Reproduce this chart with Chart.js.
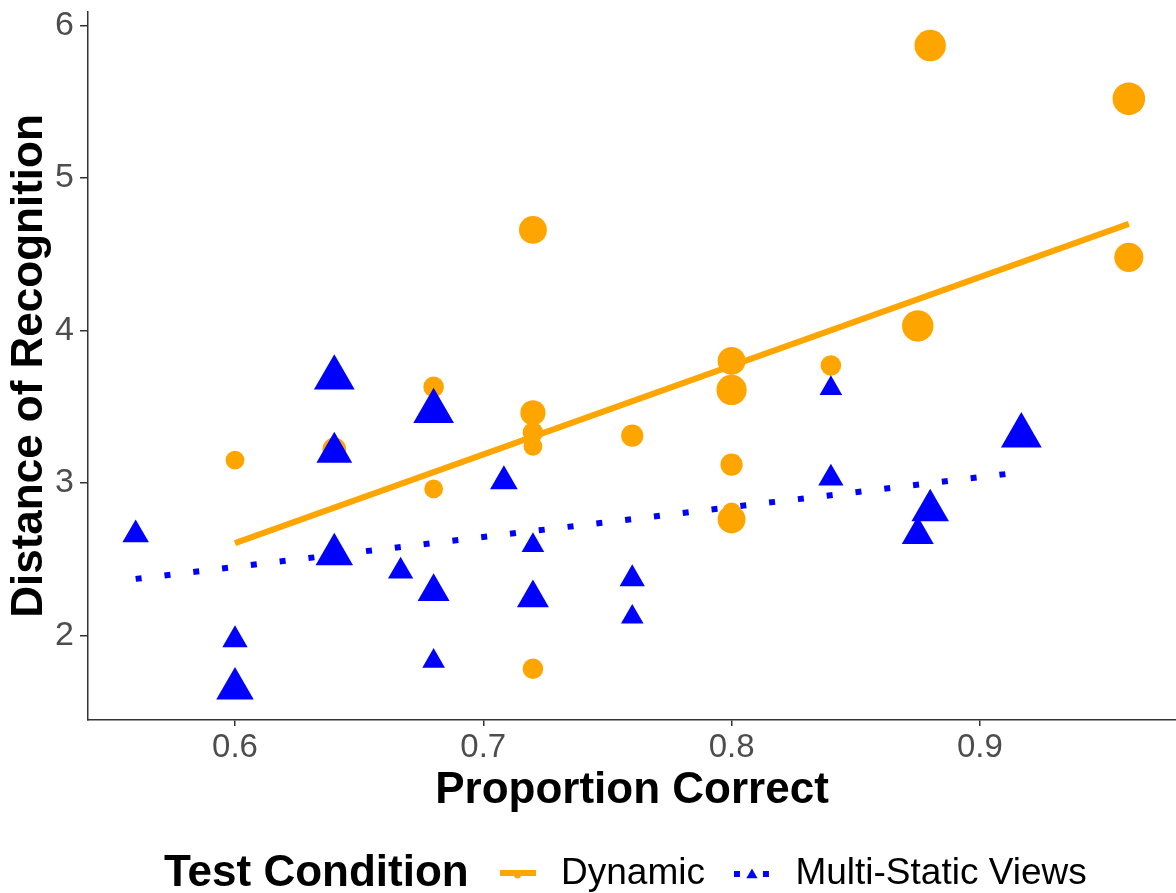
<!DOCTYPE html>
<html><head><meta charset="utf-8">
<script src="https://cdn.jsdelivr.net/npm/chart.js@4/dist/chart.umd.min.js"></script>
<style>html,body{margin:0;padding:0;background:#fff;}#wrap{width:1176px;height:893px;position:relative;}</style>
</head><body><div id="wrap"><canvas id="c" width="1176" height="893"></canvas></div>
<script>
// ---- data ----
const dynamicX = [0.60, 0.88, 0.96, 0.96, 0.875, 0.72, 0.84, 0.80, 0.80, 0.68, 0.64, 0.72, 0.72, 0.72, 0.76, 0.80, 0.68, 0.80, 0.80, 0.72];
const dynamicY = [3.15, 5.87, 5.52, 4.48, 4.03, 4.66, 3.77, 3.80, 3.61, 3.63, 3.22, 3.46, 3.33, 3.24, 3.31, 3.12, 2.96, 2.81, 2.76, 1.78];
const dynamicN = [5, 14, 15, 12, 14, 11, 6, 11, 13, 6, 8, 9, 6, 5, 7, 7, 5, 5, 11, 6];
const staticX = [0.56, 0.60, 0.60, 0.64, 0.64, 0.64, 0.6667, 0.68, 0.68, 0.68, 0.7083, 0.72, 0.72, 0.76, 0.76, 0.84, 0.84, 0.875, 0.88, 0.9167];
const staticY = [2.66, 1.97, 1.65, 3.69, 3.20, 2.53, 2.42, 3.47, 2.285, 1.83, 3.01, 2.59, 2.245, 2.37, 2.12, 3.62, 3.03, 2.66, 2.82, 3.31];
const staticN = [5.5, 5, 11, 13, 10, 11, 5, 13, 8, 4, 6, 4, 8, 5, 4, 4, 5, 8, 11, 13];
const dynamicFitX = [0.60, 0.96];
const dynamicFitY = [2.605, 4.70];
const staticFitX = [0.56, 0.9167];
const staticFitY = [2.37, 3.07];
const xTicks = [0.6, 0.7, 0.8, 0.9];
const xTickLabels = ['0.6', '0.7', '0.8', '0.9'];
const yTicks = [2, 3, 4, 5, 6];
const yTickLabels = ['2', '3', '4', '5', '6'];
const seriesNames = ['Dynamic', 'Multi-Static Views'];
const legendTitle = 'Test Condition';
const xTitle = 'Proportion Correct';
const yTitle = 'Distance of Recognition';

// ---- styles ----
const ORANGE = '#FFA500', BLUE = '#0000FF';
const FONT = '"Liberation Sans", Arial, sans-serif';
const circleR = n => 4.2 * Math.sqrt(n);
const triR = n => 6.53 * Math.sqrt(n);

function pts(xs, ys) { return xs.map((x, i) => ({x: x, y: ys[i]})); }

function keyCanvas(kind) {
  const c = document.createElement('canvas');
  c.width = 36; c.height = 18;
  const g = c.getContext('2d');
  g.lineCap = 'butt';
  if (kind === 'dyn') {
    g.strokeStyle = ORANGE; g.lineWidth = 6;
    g.beginPath(); g.moveTo(0, 8); g.lineTo(36, 8); g.stroke();
    g.fillStyle = ORANGE; g.beginPath(); g.arc(18, 10, 3.5, 0, Math.PI * 2); g.fill();
  } else {
    g.strokeStyle = BLUE; g.lineWidth = 6; g.setLineDash([6, 23]);
    g.beginPath(); g.moveTo(0, 9); g.lineTo(36, 9); g.stroke();
    g.fillStyle = BLUE; const r = 6.5, cx = 18, cy = 10;
    g.beginPath();
    for (let k = 0; k < 3; k++) {
      const a = k * 2 * Math.PI / 3;
      const px = cx + Math.sin(a) * r, py = cy - Math.cos(a) * r;
      k ? g.lineTo(px, py) : g.moveTo(px, py);
    }
    g.closePath(); g.fill();
  }
  return c;
}
const keyDyn = keyCanvas('dyn'), keySta = keyCanvas('sta');

const LEG_FONT = 37, LEG_PAD = 22, LEG_CENTER_Y = 874, LEG_FIRST_BOX_X = 492.5;

const legendPlacer = {
  id: 'legendPlacer',
  afterLayout(chart) {
    const lg = chart.legend;
    if (!lg) return;
    const h = lg.height;
    lg.top = LEG_CENTER_Y - LEG_PAD - LEG_FONT / 2;
    lg.bottom = lg.top + h;
    lg.left = LEG_FIRST_BOX_X - LEG_PAD;
    lg.right = 1176;
    lg.width = lg.right - lg.left;
  },
  afterDraw(chart) {
    const ctx = chart.ctx;
    ctx.save();
    ctx.font = 'bold 44px ' + FONT;
    ctx.fillStyle = '#000';
    ctx.textBaseline = 'middle';
    ctx.textAlign = 'left';
    ctx.fillText(legendTitle, 164, LEG_CENTER_Y);
    ctx.restore();
  }
};

new Chart(document.getElementById('c'), {
  type: 'scatter',
  data: {
    datasets: [
      {label: seriesNames[0] + ' fit', data: pts(dynamicFitX, dynamicFitY), showLine: true, borderColor: ORANGE, borderWidth: 6, pointRadius: 0, borderCapStyle: 'butt', clip: false},
      {label: seriesNames[1] + ' fit', data: pts(staticFitX, staticFitY), showLine: true, borderColor: BLUE, borderWidth: 6, borderDash: [6, 23], pointRadius: 0, borderCapStyle: 'butt', clip: false},
      {label: seriesNames[1], data: pts(staticX, staticY), pointStyle: 'triangle', backgroundColor: BLUE, borderWidth: 0, pointRadius: staticN.map(triR), clip: false},
      {label: seriesNames[0], data: pts(dynamicX, dynamicY), pointStyle: 'circle', backgroundColor: ORANGE, borderWidth: 0, pointRadius: dynamicN.map(circleR), clip: false}
    ]
  },
  options: {
    responsive: false,
    devicePixelRatio: 1,
    animation: false,
    events: [],
    layout: {autoPadding: false, padding: {top: 12, right: 0, bottom: 0, left: 0}},
    scales: {
      x: {
        type: 'linear', min: 0.5408, max: 0.979,
        afterFit: s => { s.height = 104; s.paddingLeft = 0; s.paddingRight = 0; },
        afterBuildTicks: s => { s.ticks = xTicks.map(v => ({value: v})); },
        ticks: {callback: (v) => xTickLabels[xTicks.indexOf(v)], font: {family: FONT, size: 33}, color: '#4D4D4D', padding: 2, maxRotation: 0, autoSkip: false},
        grid: {display: true, drawOnChartArea: false, drawTicks: true, tickLength: 6, color: '#333333', lineWidth: 1.5},
        border: {display: true, color: '#333333', width: 1.5},
        title: {display: true, text: xTitle, font: {family: FONT, size: 44, weight: 'bold'}, color: '#000', padding: {top: 0, bottom: 7}}
      },
      y: {
        type: 'linear', min: 1.444, max: 6.09,
        afterFit: s => { s.width = 88; s.paddingTop = 0; s.paddingBottom = 0; },
        afterBuildTicks: s => { s.ticks = yTicks.map(v => ({value: v})); },
        ticks: {callback: (v) => yTickLabels[yTicks.indexOf(v)], font: {family: FONT, size: 34}, color: '#4D4D4D', padding: 6, autoSkip: false},
        grid: {display: true, drawOnChartArea: false, drawTicks: true, tickLength: 8, color: '#333333', lineWidth: 1.5},
        border: {display: true, color: '#333333', width: 1.5},
        title: {display: true, text: yTitle, font: {family: FONT, size: 44, weight: 'bold'}, color: '#000', padding: {top: 3, bottom: 0}}
      }
    },
    plugins: {
      tooltip: {enabled: false},
      legend: {
        display: true, position: 'bottom', align: 'start',
        labels: {
          usePointStyle: true, pointStyleWidth: 50, padding: LEG_PAD,
          font: {family: FONT, size: LEG_FONT}, color: '#000',
          generateLabels: () => [
            {text: seriesNames[0], pointStyle: keyDyn, fillStyle: ORANGE, strokeStyle: ORANGE, lineWidth: 0, hidden: false, datasetIndex: 3},
            {text: seriesNames[1], pointStyle: keySta, fillStyle: BLUE, strokeStyle: BLUE, lineWidth: 0, hidden: false, datasetIndex: 2}
          ]
        }
      }
    }
  },
  plugins: [legendPlacer]
});
</script></body></html>
